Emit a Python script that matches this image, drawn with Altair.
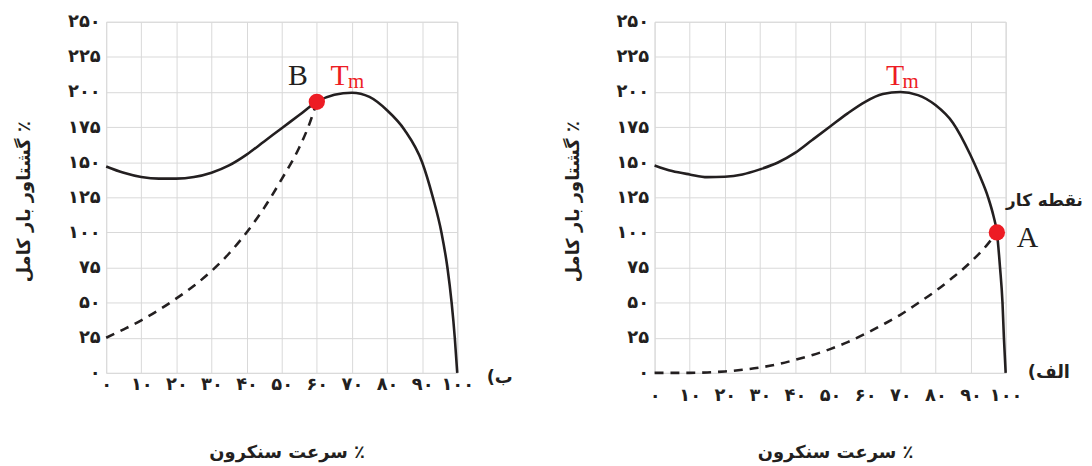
import altair as alt
import pandas as pd

# ---------------- data ----------------
x_ticks = [0, 10, 20, 30, 40, 50, 60, 70, 80, 90, 100]
x_tick_labels = ["۰", "۱۰", "۲۰", "۳۰", "۴۰", "۵۰", "۶۰", "۷۰", "۸۰", "۹۰", "۱۰۰"]
y_ticks = [0, 25, 50, 75, 100, 125, 150, 175, 200, 225, 250]
y_tick_labels = ["۰", "۲۵", "۵۰", "۷۵", "۱۰۰", "۱۲۵", "۱۵۰", "۱۷۵", "۲۰۰", "۲۲۵", "۲۵۰"]

x_title = "سرعت سنکرون ٪"
y_title = "گشتاور بار کامل ٪"

# panel (ب) – left
b_solid_x = [0, 5, 10, 15, 20, 25, 30, 35, 40, 45, 50, 55, 60, 65, 70, 75, 80, 85, 90, 93, 95.5, 97.2, 98.4, 99.3, 100]
b_solid_y = [147, 142.5, 139.5, 138.3, 138.3, 139.4, 142.5, 147.7, 155.4, 164.8, 174.2, 183.6, 193, 198, 199.5, 196.5, 187, 173, 150, 125.5, 100, 75, 50, 25, 0]
b_dash_x = [0, 5, 10, 15, 20, 25, 30, 35, 40, 45, 50, 55, 58, 60]
b_dash_y = [25, 31, 37.4, 44.8, 53, 62, 72.5, 85, 100, 117.5, 138, 160.5, 178, 193]
b_point_x = [60]
b_point_y = [193]

# panel (الف) – right
a_solid_x = [0, 5, 10, 15, 20, 25, 30, 35, 40, 45, 50, 55, 60, 65, 70, 75, 80, 85, 90, 92.5, 95, 96.5, 97.5, 98.4, 99.1, 99.5, 100]
a_solid_y = [147.7, 143.7, 141.3, 139.4, 139.7, 141.3, 144.9, 149.6, 156.6, 166, 175.4, 184.8, 193, 198.5, 200, 197.8, 190.7, 178, 155, 141, 125, 112, 100, 75, 50, 25, 0]
a_dash_x = [0, 10, 15, 20, 25, 30, 35, 40, 45, 50, 55, 60, 65, 70, 75, 80, 85, 90, 95, 97.5]
a_dash_y = [0, 0, 0.3, 1, 2.2, 3.8, 6.1, 9.2, 12.7, 16.9, 21.9, 27.8, 34.3, 41.3, 49.6, 58.2, 68, 78.8, 92, 100]
a_point_x = [97.5]
a_point_y = [100]

INK = "#231f20"
RED = "#ed1c24"
GRID = "#d9d9d9"
FONT = "DejaVu Sans"
SERIF = "Liberation Serif"


def label_expr(vals, labels):
    expr = "''"
    for v, l in reversed(list(zip(vals, labels))):
        expr = f"datum.value == {v} ? '{l}' : ({expr})"
    return expr


def encodings(x_label_pad):
    xenc = alt.X(
        "x:Q",
        scale=alt.Scale(domain=[0, 100], nice=False, zero=False),
        axis=alt.Axis(
            values=x_ticks, labelExpr=label_expr(x_ticks, x_tick_labels),
            title=x_title, titleX=182, titleY=80, titleBaseline="middle",
            labelPadding=x_label_pad, labelOverlap=False, labelFlush=False,
            grid=True,
        ),
    )
    yenc = alt.Y(
        "y:Q",
        scale=alt.Scale(domain=[0, 250], nice=False, zero=False),
        axis=alt.Axis(
            values=y_ticks, labelExpr=label_expr(y_ticks, y_tick_labels),
            title=y_title, titleX=-82, titleY=181, titleBaseline="middle",
            titleAngle=270, labelPadding=6, labelOverlap=False, labelFlush=False,
            grid=True,
        ),
    )
    return xenc, yenc


def panel(sx, sy, dx, dy, px, py, texts, x_label_pad):
    xenc, yenc = encodings(x_label_pad)
    solid = alt.Chart(pd.DataFrame({"x": sx, "y": sy})).mark_line(
        color=INK, strokeWidth=2.6, interpolate="monotone"
    ).encode(x=xenc, y=yenc)
    dash = alt.Chart(pd.DataFrame({"x": dx, "y": dy})).mark_line(
        color=INK, strokeWidth=2.6, strokeDash=[9, 7], interpolate="monotone"
    ).encode(x=xenc, y=yenc)
    point = alt.Chart(pd.DataFrame({"x": px, "y": py})).mark_circle(
        color=RED, size=270, opacity=1
    ).encode(x=xenc, y=yenc)
    layers = [solid, dash, point]
    for t in texts:
        layers.append(
            alt.Chart(pd.DataFrame({"x": [t["x"]], "y": [t["y"]], "t": [t["text"]]})).mark_text(
                font=t["font"], fontSize=t["size"], color=t["color"], align=t["align"],
                baseline=t["baseline"], fontWeight=t.get("weight", "normal"),
            ).encode(x=xenc, y=yenc, text="t:N")
        )
    return alt.layer(*layers).properties(width=354, height=354)


left_texts = [
    {"x": 54.6, "y": 204.8, "text": "B", "font": SERIF, "size": 30, "color": INK, "align": "center", "baseline": "alphabetic"},
    {"x": 66.5, "y": 204.8, "text": "T", "font": SERIF, "size": 30, "color": RED, "align": "center", "baseline": "alphabetic"},
    {"x": 68.9, "y": 202.7, "text": "m", "font": SERIF, "size": 21, "color": RED, "align": "left", "baseline": "alphabetic"},
    {"x": 112.1, "y": -3.5, "text": "(ب", "font": FONT, "size": 18, "color": INK, "align": "center", "baseline": "middle", "weight": "bold"},
]
right_texts = [
    {"x": 68.5, "y": 204.8, "text": "T", "font": SERIF, "size": 30, "color": RED, "align": "center", "baseline": "alphabetic"},
    {"x": 70.6, "y": 203.2, "text": "m", "font": SERIF, "size": 21, "color": RED, "align": "left", "baseline": "alphabetic"},
    {"x": 106.2, "y": 89.7, "text": "A", "font": SERIF, "size": 30, "color": INK, "align": "center", "baseline": "alphabetic"},
    {"x": 122.0, "y": 119, "text": "نقطه کار", "font": FONT, "size": 17, "color": INK, "align": "right", "baseline": "alphabetic", "weight": "bold"},
    {"x": 112.3, "y": 0, "text": "(الف", "font": FONT, "size": 18, "color": INK, "align": "center", "baseline": "middle", "weight": "bold"},
]

left = panel(b_solid_x, b_solid_y, b_dash_x, b_dash_y, b_point_x, b_point_y, left_texts, 3)
right = panel(a_solid_x, a_solid_y, a_dash_x, a_dash_y, a_point_x, a_point_y, right_texts, 14)

chart = alt.hconcat(left, right, spacing=199, bounds="flush").properties(
    padding={"left": 7, "top": 2, "right": 0, "bottom": 0}
).configure_view(stroke=GRID, strokeWidth=1).configure_axis(
    grid=True, gridColor=GRID, gridWidth=1, domain=False, ticks=False,
    labelFont=FONT, labelFontSize=18, labelColor=INK, labelFontWeight="bold",
    titleFont=FONT, titleFontSize=18, titleColor=INK, titleFontWeight="bold",
)

chart.save("out.html", embed_options={"renderer": "svg", "actions": False})
